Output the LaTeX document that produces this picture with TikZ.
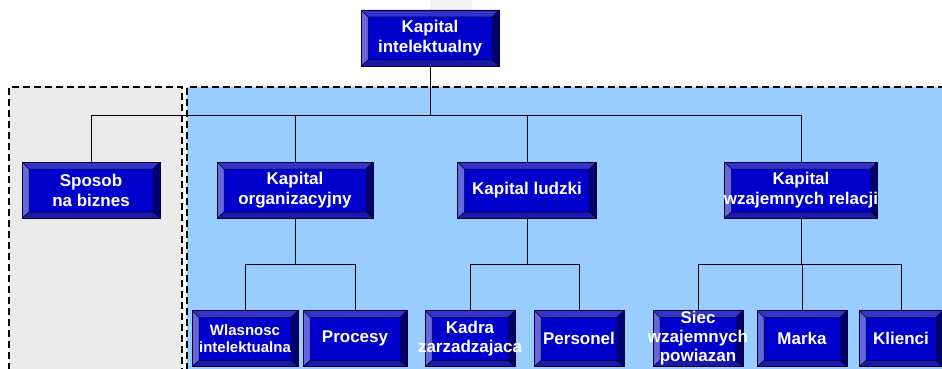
\documentclass[tikz,border=0pt]{standalone}
\usepackage{fontspec}
\usetikzlibrary{calc}
\newfontfamily\boxfont{Liberation Sans}
\definecolor{boxcore}{HTML}{0000CC}
\definecolor{bevtop}{HTML}{3333CC}
\definecolor{bevleft}{HTML}{6666DD}
\definecolor{bevright}{HTML}{000070}
\definecolor{bevbottom}{HTML}{1A1AA6}
\definecolor{areablue}{HTML}{99CCFF}
\definecolor{areagray}{HTML}{EBEBEB}
\definecolor{markgray}{HTML}{F3F3F3}
\tikzset{
  bevelbox/.style={draw=black!85!blue,line width=0.8pt,fill=boxcore,text=white,
    font={\boxfont\bfseries\fontsize{17}{20}\selectfont},align=center,
    inner sep=0pt,minimum height=56pt,
    path picture={
      \coordinate (pnw) at (path picture bounding box.north west);
      \coordinate (pne) at (path picture bounding box.north east);
      \coordinate (psw) at (path picture bounding box.south west);
      \coordinate (pse) at (path picture bounding box.south east);
      \coordinate (inw) at ($(pnw)+(7pt,-7pt)$);
      \coordinate (ine) at ($(pne)+(-7pt,-7pt)$);
      \coordinate (isw) at ($(psw)+(7pt,6pt)$);
      \coordinate (ise) at ($(pse)+(-7pt,6pt)$);
      \fill[bevtop] (pnw) -- (pne) -- (ine) -- (inw) -- cycle;
      \fill[bevleft] (pnw) -- (inw) -- (isw) -- (psw) -- cycle;
      \fill[bevright] (pne) -- (pse) -- (ise) -- (ine) -- cycle;
      \fill[bevbottom] (psw) -- (isw) -- (ise) -- (pse) -- cycle;
      \draw[black!85!blue,line width=0.5pt] (inw) rectangle (ise)
        (pnw) -- (inw) (pne) -- (ine) (psw) -- (isw) (pse) -- (ise);
    }},
  spill/.style={inner xsep=-12pt,font={\boxfont\bfseries\fontsize{17}{19}\selectfont}},
  arealine/.style={dash pattern=on 7pt off 4pt,line width=2pt},
  link/.style={line width=1pt}
}
\begin{document}
\begin{tikzpicture}[x=1pt,y=-1pt]
  \useasboundingbox (0,0) rectangle (942,369);
  % Watermark
  \fill[markgray] (430,0) rectangle (472,30);
  \fill[markgray] (308,87) arc[start angle=180,end angle=0,x radius=147,y radius=80] -- cycle;
  \fill[white] (371,95) arc[start angle=180,end angle=0,x radius=76,y radius=18] -- cycle;

  % Areas
  \fill[areagray] (9,87) rectangle (182,369);
  \fill[areablue] (187,87) rectangle (942,369);
  \draw[arealine] (9,370) -- (9,87) -- (182,87) -- (182,370);
  \draw[arealine] (187,370) -- (187,87) -- (942,87);

  % Nodes
  \node[bevelbox,minimum width=138pt] (top) at (430,38) {Kapital\\intelektualny};
  \node[bevelbox,minimum width=138pt] (sposob) at (91,190) {Sposob\\na biznes};
  \node[bevelbox,minimum width=156pt] (org) at (295,190) {Kapital\\organizacyjny};
  \node[bevelbox,minimum width=139pt] (ludz) at (527,190) {Kapital ludzki};
  \node[bevelbox,minimum width=153pt,inner xsep=-4pt] (rel) at (801,190) {Kapital\\wzajemnych relacji};

  \node[bevelbox,minimum width=106pt,font={\boxfont\bfseries\fontsize{15}{17}\selectfont}] (wlas) at (245,338.5) {Wlasnosc\\intelektualna};
  \node[bevelbox,minimum width=104pt] (proc) at (355,338.5) {Procesy};
  \node[bevelbox,minimum width=90pt,spill] (kadra) at (470,338.5) {Kadra\\zarzadzajaca};
  \node[bevelbox,minimum width=90pt] (pers) at (579,338.5) {Personel};
  \node[bevelbox,minimum width=90pt,spill] (siec) at (698,338.5) {Siec\\wzajemnych\\powiazan};
  \node[bevelbox,minimum width=90pt] (marka) at (802,338.5) {Marka};
  \node[bevelbox,minimum width=84pt] (klie) at (901,338.5) {Klienci};

  % Buses
  \coordinate (bus) at (0,115);
  \coordinate (sub) at (0,264);

  % Connectors: first level
  \draw[link] (top.south) -- (top.south |- bus);
  \draw[link] (sposob.north) |- (rel.north |- bus) -- (rel.north);
  \draw[link] (org.north) -- (org.north |- bus);
  \draw[link] (ludz.north) -- (ludz.north |- bus);

  % Connectors: second level
  \draw[link] (org.south) -- (org.south |- sub);
  \draw[link] (wlas.north) |- (proc.north |- sub) -- (proc.north);
  \draw[link] (ludz.south) -- (ludz.south |- sub);
  \draw[link] (kadra.north) |- (pers.north |- sub) -- (pers.north);
  \draw[link] (rel.south) -- (rel.south |- sub);
  \draw[link] (siec.north) |- (klie.north |- sub) -- (klie.north);
  \draw[link] (marka.north) -- (marka.north |- sub);
\end{tikzpicture}
\end{document}
